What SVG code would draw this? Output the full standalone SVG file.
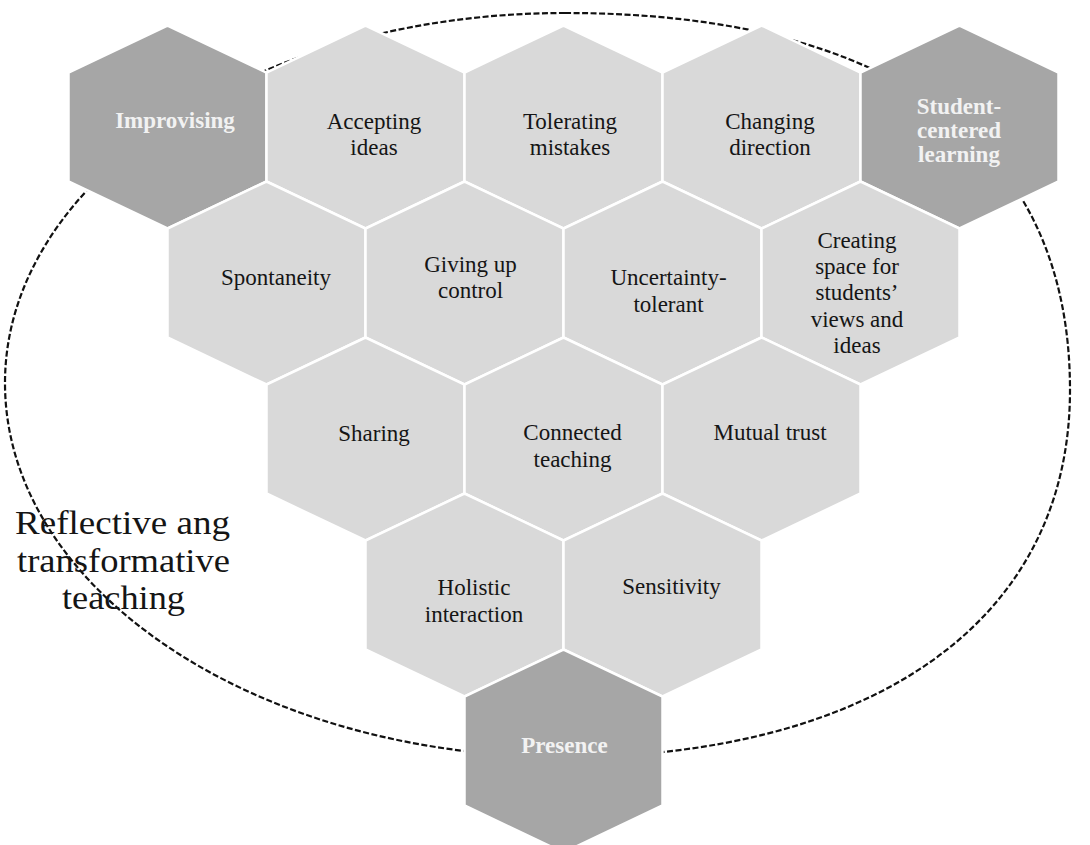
<svg xmlns="http://www.w3.org/2000/svg" xmlns:xlink="http://www.w3.org/1999/xlink" width="1090" height="845" viewBox="0 0 1090 845">
  <style>
    .bg{fill:#ffffff}
    .outline{fill:none;stroke:#111;stroke-width:2.2;stroke-dasharray:6 2.5}
    .light{fill:#d9d9d9;stroke:#ffffff;stroke-width:2.5}
    .dark{fill:#a6a6a6;stroke:#ffffff;stroke-width:2.5}
    .t{font-family:"Liberation Serif","Times New Roman",serif;font-size:23px;text-anchor:middle;fill:#151515}
    .td{font-family:"Liberation Serif","Times New Roman",serif;font-size:23px;font-weight:bold;text-anchor:middle;fill:#f2f2f2}
    .big{font-family:"Liberation Serif","Times New Roman",serif;font-size:34px;text-anchor:middle;fill:#151515}
  </style>
  <defs>
    <polygon id="hex" points="0,-101.5 99,-54.5 99,54.5 0,101.5 -99,54.5 -99,-54.5"/>
  </defs>
  <rect class="bg" x="0" y="0" width="1090" height="845"/>

  <g id="connectors">
    <path class="outline" d="M565,13 C893,13 1070,145 1070,390 C1070,630 860,757 565,757 C256,757 5,590 5,383 C5,179 256,13 565,13 Z"/>
  </g>

  <g id="node-improvising">
    <use href="#hex" xlink:href="#hex" x="167.5" y="127" class="dark"/>
    <text class="td" x="175" y="128">Improvising</text>
  </g>
  <g id="node-accepting-ideas">
    <use href="#hex" xlink:href="#hex" x="365.5" y="127" class="light"/>
    <text class="t" x="374" y="129"><tspan x="374">Accepting</tspan><tspan x="374" y="155">ideas</tspan></text>
  </g>
  <g id="node-tolerating-mistakes">
    <use href="#hex" xlink:href="#hex" x="563.5" y="127" class="light"/>
    <text class="t" x="570" y="128.5"><tspan x="570">Tolerating</tspan><tspan x="570" y="155">mistakes</tspan></text>
  </g>
  <g id="node-changing-direction">
    <use href="#hex" xlink:href="#hex" x="761.5" y="127" class="light"/>
    <text class="t" x="770" y="128.5"><tspan x="770">Changing</tspan><tspan x="770" y="155">direction</tspan></text>
  </g>
  <g id="node-student-centered-learning">
    <use href="#hex" xlink:href="#hex" x="959.5" y="127" class="dark"/>
    <text class="td" x="959" y="113.5"><tspan x="959">Student-</tspan><tspan x="959" y="137.5">centered</tspan><tspan x="959" y="162">learning</tspan></text>
  </g>

  <g id="node-spontaneity">
    <use href="#hex" xlink:href="#hex" x="266.5" y="283" class="light"/>
    <text class="t" x="276" y="285">Spontaneity</text>
  </g>
  <g id="node-giving-up-control">
    <use href="#hex" xlink:href="#hex" x="464.5" y="283" class="light"/>
    <text class="t" x="470.5" y="271.5"><tspan x="470.5">Giving up</tspan><tspan x="470.5" y="298">control</tspan></text>
  </g>
  <g id="node-uncertainty-tolerant">
    <use href="#hex" xlink:href="#hex" x="662.5" y="283" class="light"/>
    <text class="t" x="668.5" y="285"><tspan x="668.5">Uncertainty-</tspan><tspan x="668.5" y="311.5">tolerant</tspan></text>
  </g>
  <g id="node-creating-space">
    <use href="#hex" xlink:href="#hex" x="860.5" y="283" class="light"/>
    <text class="t" x="857" y="248"><tspan x="857">Creating</tspan><tspan x="857" y="274">space for</tspan><tspan x="857" y="300">students’</tspan><tspan x="857" y="326.5">views and</tspan><tspan x="857" y="353">ideas</tspan></text>
  </g>

  <g id="node-sharing">
    <use href="#hex" xlink:href="#hex" x="365.5" y="439" class="light"/>
    <text class="t" x="374" y="441">Sharing</text>
  </g>
  <g id="node-connected-teaching">
    <use href="#hex" xlink:href="#hex" x="563.5" y="439" class="light"/>
    <text class="t" x="572.5" y="440"><tspan x="572.5">Connected</tspan><tspan x="572.5" y="466.5">teaching</tspan></text>
  </g>
  <g id="node-mutual-trust">
    <use href="#hex" xlink:href="#hex" x="761.5" y="439" class="light"/>
    <text class="t" x="770" y="440">Mutual trust</text>
  </g>

  <g id="node-holistic-interaction">
    <use href="#hex" xlink:href="#hex" x="464.5" y="595" class="light"/>
    <text class="t" x="474" y="595"><tspan x="474">Holistic</tspan><tspan x="474" y="621.5">interaction</tspan></text>
  </g>
  <g id="node-sensitivity">
    <use href="#hex" xlink:href="#hex" x="662.5" y="595" class="light"/>
    <text class="t" x="671.5" y="593.5">Sensitivity</text>
  </g>

  <g id="node-presence">
    <use href="#hex" xlink:href="#hex" x="563.5" y="751" class="dark"/>
    <text class="td" x="564.5" y="752.5">Presence</text>
  </g>

  <g id="label-reflective">
    <text class="big" x="122.5" y="533.5" textLength="215" lengthAdjust="spacingAndGlyphs">Reflective ang</text>
    <text class="big" x="123.5" y="571.5" textLength="213" lengthAdjust="spacingAndGlyphs">transformative</text>
    <text class="big" x="123.5" y="608.5" textLength="123" lengthAdjust="spacingAndGlyphs">teaching</text>
  </g>
</svg>
